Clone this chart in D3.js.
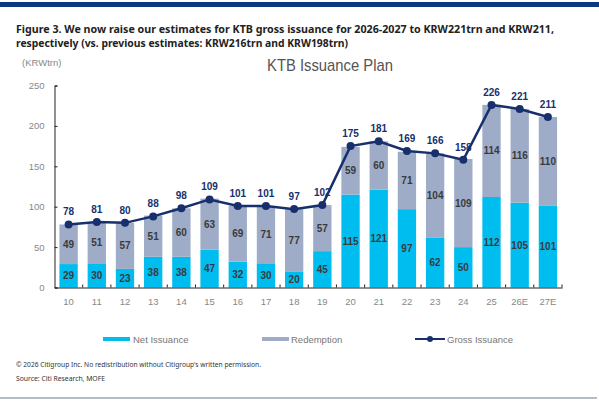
<!DOCTYPE html>
<html>
<head>
<meta charset="utf-8">
<script src="https://cdn.jsdelivr.net/npm/d3@7"></script>
<style>
  html, body { margin: 0; padding: 0; background: #fff; }
  svg { display: block; }
</style>
</head>
<body>
<svg id="chart" width="599" height="402"></svg>
<script>
const categories = ["10","11","12","13","14","15","16","17","18","19","20","21","22","23","24","25","26E","27E"];
const netIssuance = [29,30,23,38,38,47,32,30,20,45,115,121,97,62,50,112,105,101];
const redemption  = [49,51,57,51,60,63,69,71,77,57,59,60,71,104,109,114,116,110];
const grossIssuance = [78,81,80,88,98,109,101,101,97,102,175,181,169,166,158,226,221,211];
const yTicks = [0,50,100,150,200,250];
const seriesNames = ["Net Issuance","Redemption","Gross Issuance"];

const C_NET = "#00bdf0", C_RED = "#9eacc8", C_GROSS = "#17306d";

const svg = d3.select("#chart");

// top band and bottom rule
svg.append("rect").attr("x",0).attr("y",2).attr("width",599).attr("height",5).attr("fill","#0c3a80");
svg.append("rect").attr("x",0).attr("y",397).attr("width",597).attr("height",2).attr("fill","#b3bcc8");

// title
const tf = "'Noto Sans', 'DejaVu Sans', sans-serif";
svg.append("text").attr("x",16).attr("y",33).attr("font-family",tf).attr("font-weight","bold")
  .attr("font-size",11).attr("fill","#222").attr("textLength",538).attr("lengthAdjust","spacingAndGlyphs")
  .text("Figure 3. We now raise our estimates for KTB gross issuance for 2026-2027 to KRW221trn and KRW211,");
svg.append("text").attr("x",16).attr("y",47).attr("font-family",tf).attr("font-weight","bold")
  .attr("font-size",11).attr("fill","#222").attr("textLength",332).attr("lengthAdjust","spacingAndGlyphs")
  .text("respectively (vs. previous estimates: KRW216trn and KRW198trn)");

const cf = "'Liberation Sans', Arial, sans-serif";
svg.append("text").attr("x",22).attr("y",66).attr("font-family",cf).attr("font-size",9.5).attr("fill","#888")
  .text("(KRWtrn)");
svg.append("text").attr("x",267).attr("y",71).attr("font-family",cf)
  .attr("font-size",17).attr("fill","#555").attr("textLength",126).attr("lengthAdjust","spacingAndGlyphs")
  .text("KTB Issuance Plan");

// scales
const x = d3.scaleBand().domain(categories).range([54.5,562]).paddingInner(0.35).paddingOuter(0.175);
const y = d3.scaleLinear().domain([0,250]).range([287.5,85.5]);

// bars
const g = svg.append("g");
const data = categories.map((c,i)=>({c, net:netIssuance[i], red:redemption[i], gross:grossIssuance[i]}));
const stack = d3.stack().keys(["net","red"])(data);
const colors = {net:C_NET, red:C_RED};
stack.forEach(layer=>{
  g.selectAll(null).data(layer).enter().append("rect")
    .attr("x",d=>x(d.data.c)).attr("width",x.bandwidth())
    .attr("y",d=>y(d[1])).attr("height",d=>y(d[0])-y(d[1]))
    .attr("fill",colors[layer.key]);
  g.selectAll(null).data(layer).enter().append("text")
    .attr("x",d=>x(d.data.c)+x.bandwidth()/2)
    .attr("y",d=>(y(d[0])+y(d[1]))/2+3.5)
    .attr("text-anchor","middle").attr("font-family",cf).attr("font-weight","bold")
    .attr("font-size",10).attr("fill","#3a3a3a")
    .text(d=>d.data[layer.key]);
});

// axes
const yAxis = d3.axisLeft(y).tickValues(yTicks).tickSize(-3).tickPadding(10);
const ya = svg.append("g").attr("transform","translate(54.5,0)").call(yAxis);
ya.select(".domain").attr("stroke","#222");
ya.selectAll(".tick line").attr("stroke","#222");
ya.selectAll(".tick text").attr("font-family",cf).attr("font-size",9.5).attr("fill","#888");

const xAxis = d3.axisBottom(x).tickSize(0).tickPadding(11);
const xa = svg.append("g").attr("transform","translate(0,287.5)").call(xAxis);
xa.select(".domain").attr("stroke","#222");
xa.selectAll(".tick text").attr("font-family",cf).attr("font-size",9.5).attr("fill","#888");
// category boundary ticks
const bounds = categories.slice(1).map(c=>x(c)-x.step()*x.paddingInner()/2);
bounds.push(562);
xa.selectAll(".bt").data(bounds).enter().append("line")
  .attr("x1",d=>d).attr("x2",d=>d).attr("y1",0).attr("y2",-3).attr("stroke","#222");

// gross line
const cx = d=>x(d.c)+x.bandwidth()/2;
svg.append("path").datum(data)
  .attr("d",d3.line().x(cx).y(d=>y(d.gross)))
  .attr("fill","none").attr("stroke",C_GROSS).attr("stroke-width",2.5);
svg.selectAll(".pt").data(data).enter().append("circle")
  .attr("cx",cx).attr("cy",d=>y(d.gross)).attr("r",4).attr("fill",C_GROSS);
svg.selectAll(".gl").data(data).enter().append("text")
  .attr("x",cx).attr("y",d=>y(d.gross)-9)
  .attr("text-anchor","middle").attr("font-family",cf).attr("font-weight","bold")
  .attr("font-size",10).attr("fill",C_GROSS).text(d=>d.gross);

// legend
const lg = svg.append("g").attr("font-family",cf).attr("font-size",9.5).attr("fill","#777");
lg.append("rect").attr("x",103).attr("y",337).attr("width",27).attr("height",4).attr("fill",C_NET);
lg.append("text").attr("x",133).attr("y",342.5).text(seriesNames[0]);
lg.append("rect").attr("x",262).attr("y",337).attr("width",27).attr("height",4).attr("fill",C_RED);
lg.append("text").attr("x",291).attr("y",342.5).text(seriesNames[1]);
lg.append("line").attr("x1",415).attr("x2",445).attr("y1",339).attr("y2",339).attr("stroke",C_GROSS).attr("stroke-width",2);
lg.append("circle").attr("cx",430).attr("cy",339).attr("r",3).attr("fill",C_GROSS);
lg.append("text").attr("x",447).attr("y",342.5).text(seriesNames[2]);

// footer
svg.append("text").attr("x",16).attr("y",367).attr("font-family",tf).attr("font-size",7).attr("fill","#333")
  .attr("textLength",245).attr("lengthAdjust","spacingAndGlyphs")
  .text("© 2026 Citigroup Inc. No redistribution without Citigroup's written permission.");
svg.append("text").attr("x",16).attr("y",381).attr("font-family",tf).attr("font-size",7).attr("fill","#333")
  .attr("textLength",89).attr("lengthAdjust","spacingAndGlyphs")
  .text("Source: Citi Research, MOFE");
</script>
</body>
</html>
